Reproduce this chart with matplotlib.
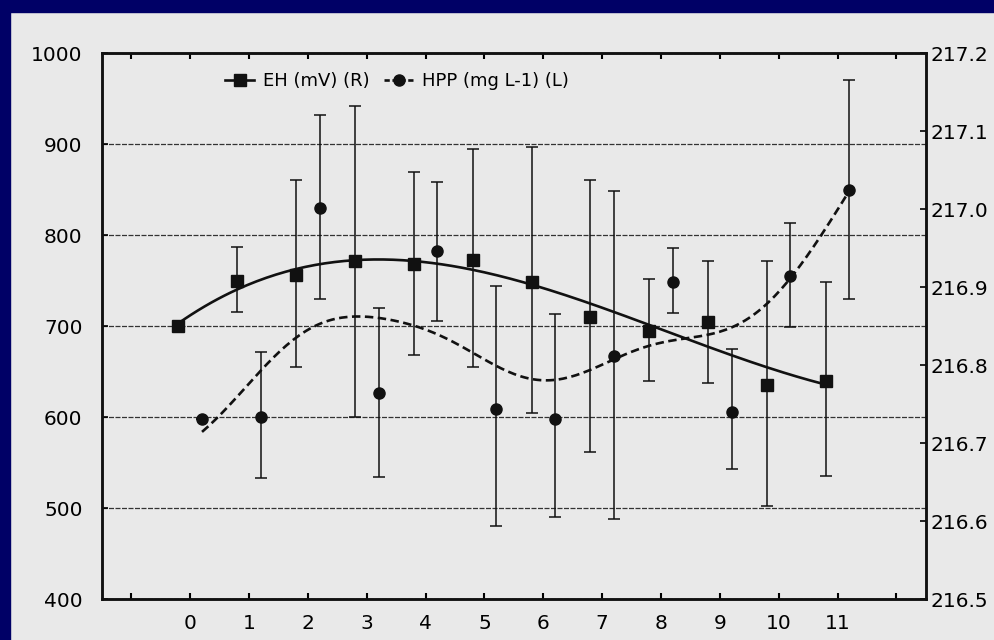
import numpy as np
import matplotlib
matplotlib.use("Agg")
import matplotlib.pyplot as plt
from matplotlib.patches import Rectangle
from matplotlib.lines import Line2D

plt.rcParams['font.family'] = ['DejaVu Sans']

# sampling times (tick labels) and the two series
times = np.arange(12)
tick_labels = [''] + [str(t) for t in times] + ['']

# EH (mV), right axis - squares, plotted slightly left of each tick
eh_mean = [216.850, 216.908, 216.915, 216.933, 216.929, 216.935,
           216.907, 216.862, 216.844, 216.855, 216.775, 216.780]
eh_low = [216.850, 216.868, 216.797, 216.733, 216.813, 216.797,
          216.739, 216.689, 216.779, 216.777, 216.619, 216.658]
eh_high = [216.850, 216.951, 217.037, 217.132, 217.048, 217.077,
           217.080, 217.037, 216.911, 216.933, 216.934, 216.906]

# HPP (mg L-1), left axis - circles, plotted slightly right of each tick
hpp_mean = [598, 600, 830, 626, 782, 609, 598, 667, 748, 606, 755, 850]
hpp_low = [598, 533, 730, 534, 706, 480, 490, 488, 714, 543, 699, 730]
hpp_high = [598, 672, 932, 720, 858, 744, 713, 848, 786, 675, 813, 970]


# distance weighted local linear smoothing
def local_fit(x, y, xs, h):
    out = []
    for x0 in xs:
        w = np.exp(-0.5 * ((x - x0) / h) ** 2)
        c = np.polyfit(x - x0, y, 1, w=np.sqrt(w))
        out.append(c[-1])
    return np.array(out)


fig = plt.figure(figsize=(9.95, 6.4), dpi=100)
fig.patch.set_facecolor('#e9e9e9')
# navy slide border on the left and top
fig.patches.append(Rectangle((0, 0), 10 / 995, 1, transform=fig.transFigure,
                             color='#000066', zorder=-1))
fig.patches.append(Rectangle((0, 1 - 12 / 640), 1, 12 / 640, transform=fig.transFigure,
                             color='#000066', zorder=-1))

ax = fig.add_axes([0.1025, 0.064, 0.828, 0.853])
ax.set_facecolor('none')
ax2 = ax.twinx()

xe = times - 0.2
xh = times + 0.2
yh = np.array(hpp_mean, float)
ye = np.array(eh_mean)

# HPP on the left axis
ax.errorbar(xh, yh, yerr=[yh - np.array(hpp_low), np.array(hpp_high) - yh],
            fmt='o', color='#111111', ms=8, elinewidth=1.1, capsize=4.5, capthick=1.1)
xs_h = np.linspace(xh[0], xh[-1], 200)
ax.plot(xs_h, local_fit(xh, yh, xs_h, 1.1), color='#111111', lw=1.9, ls=(0, (3.2, 1.7)))

# EH on the right axis
ax2.errorbar(xe, ye, yerr=[ye - np.array(eh_low), np.array(eh_high) - ye],
             fmt='s', color='#111111', ms=8, elinewidth=1.1, capsize=4.5, capthick=1.1)
xs_e = np.linspace(xe[0], xe[-1], 200)
ax2.plot(xs_e, np.polyval(np.polyfit(xe, ye, 3), xs_e), color='#111111', lw=1.9)

ax.set_xlim(-1.5, 12.5)
ax.set_ylim(400, 1000)
ax2.set_ylim(216.5, 217.2)
ax.set_xticks(np.arange(-1, 13))
ax.set_xticklabels(tick_labels)
ax.set_yticks(np.arange(400, 1001, 100))
ax2.set_yticks(np.arange(216.5, 217.21, 0.1))
ax2.set_yticklabels(['%.1f' % v for v in np.arange(216.5, 217.21, 0.1)])

ax.yaxis.grid(True, ls=(0, (4, 1.2)), color='#333333', lw=0.9)
ax.set_axisbelow(True)

ax.tick_params(axis='x', direction='in', length=4, width=1.5, top=True,
               labelsize=14.5, pad=11)
ax.tick_params(axis='y', direction='in', length=4, width=1.2, labelsize=14.5, pad=14)
ax2.tick_params(axis='y', direction='in', length=4, width=1.2, labelsize=14.5, pad=3)
for a in (ax, ax2):
    for s in a.spines.values():
        s.set_linewidth(1.8)
        s.set_color('#111111')

handles = [Line2D([], [], color='#111111', marker='s', ms=8, lw=1.9),
           Line2D([], [], color='#111111', marker='o', ms=8, lw=1.9, ls=(0, (2, 1)))]
ax.legend(handles, ['EH (mV) (R)', 'HPP (mg L-1) (L)'], ncol=2, frameon=False,
          loc='upper left', bbox_to_anchor=(0.13, 0.995), fontsize=13,
          handlelength=1.6, columnspacing=0.8, handletextpad=0.5)

fig.savefig('out.png', dpi=100, facecolor=fig.get_facecolor())
